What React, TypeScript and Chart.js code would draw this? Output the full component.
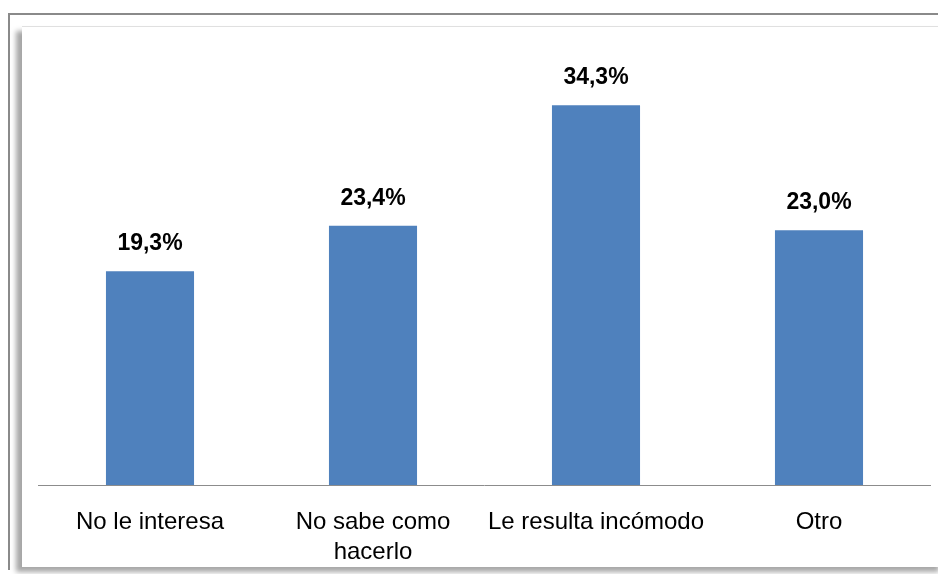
import React, { useEffect, useRef } from "react";
import { Chart, registerables } from "chart.js";

Chart.register(...registerables);

const categories: (string | string[])[] = [
  "No le interesa",
  ["No sabe como", "hacerlo"],
  "Le resulta incómodo",
  "Otro",
];
const values: number[] = [19.3, 23.4, 34.3, 23.0];
const valueLabels: string[] = ["19,3%", "23,4%", "34,3%", "23,0%"];

const barLabelPlugin = {
  id: "barLabels",
  afterDatasetsDraw(chart: any) {
    const ctx = chart.ctx;
    const meta = chart.getDatasetMeta(0);
    ctx.save();
    ctx.font = "bold 23px 'Liberation Sans', Arial, sans-serif";
    ctx.fillStyle = "#000";
    ctx.textAlign = "center";
    ctx.textBaseline = "alphabetic";
    meta.data.forEach((bar: any, i: number) => {
      ctx.fillText(valueLabels[i], bar.x, bar.y - 21);
    });
    ctx.restore();
  },
};

export default function App() {
  const ref = useRef<HTMLCanvasElement>(null);
  useEffect(() => {
    if (!ref.current) return;
    const chart = new Chart(ref.current, {
      type: "bar",
      data: {
        labels: categories,
        datasets: [
          {
            data: values,
            backgroundColor: "#4F81BD",
            borderWidth: 0,
            categoryPercentage: 1,
            barPercentage: 0.395,
          },
        ],
      },
      options: {
        animation: false,
        responsive: false,
        maintainAspectRatio: false,
        layout: { padding: { left: 30.5, right: 7.5, top: 34, bottom: -21 } },
        plugins: {
          legend: { display: false },
          tooltip: { enabled: false },
        },
        scales: {
          x: {
            grid: { display: false, drawTicks: false },
            border: { display: true, color: "#8c8c8c", width: 1 },
            ticks: {
              color: "#000",
              padding: 22,
              maxRotation: 0,
              autoSkip: false,
              font: { family: "'Liberation Sans', Arial, sans-serif", size: 24, lineHeight: 1.25 },
            },
          },
          y: {
            display: false,
            min: 0,
            max: 40,
          },
        },
      },
      plugins: [barLabelPlugin],
    });
    return () => chart.destroy();
  }, []);

  return (
    <div style={{ position: "relative", width: 938, height: 566 }}>
      <div
        style={{
          position: "absolute",
          left: 0,
          top: 5,
          width: 938,
          height: 557,
          borderTop: "2px solid #8a8a8a",
          borderLeft: "2px solid #8a8a8a",
          boxSizing: "border-box",
        }}
      />
      <div
        style={{
          position: "absolute",
          left: 14,
          top: 18,
          width: 923,
          height: 541,
          borderTop: "1px solid #e0e0e0",
          borderRight: "2px solid #9a9a9a",
          boxSizing: "border-box",
          background: "#fff",
          boxShadow: "-6px 5px 5px rgba(0,0,0,0.35)",
        }}
      />
      <canvas
        ref={ref}
        width={930}
        height={560}
        style={{ position: "absolute", left: 0, top: 0, width: 930, height: 560 }}
      />
    </div>
  );
}
